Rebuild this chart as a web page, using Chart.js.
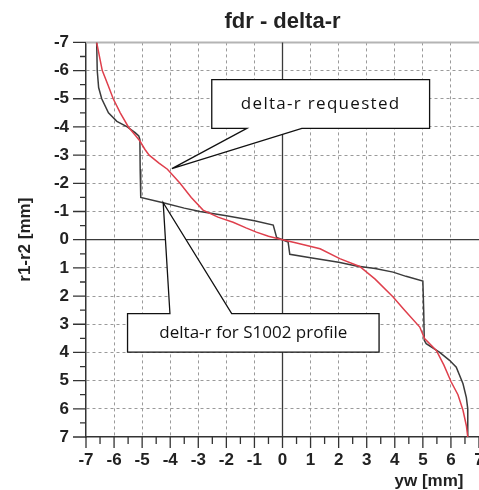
<!DOCTYPE html>
<html>
<head>
<meta charset="utf-8">
<script src="https://cdn.jsdelivr.net/npm/chart.js@4.4.1/dist/chart.umd.min.js"></script>
<style>
  html, body { margin: 0; padding: 0; background: #fff; overflow: hidden; }
</style>
</head>
<body>
<canvas id="chart" width="479" height="490"></canvas>
<script>
// Datos (yw en mm, delta-r en mm)
const axisTicks = [-7, -6, -5, -4, -3, -2, -1, 0, 1, 2, 3, 4, 5, 6, 7];

const requestedYw = [-6.62, -6.5, -6.42, -6.22, -6.03, -5.78, -5.49, -5.2, -5.08, -4.9, -4.75, -4.4, -4.1, -3.65, -3.25, -2.83, -2.3, -1.76, -1.3, -0.93, -0.5, 0,
    0.5, 1.34, 2.04, 2.75, 3.3, 3.94, 4.35, 4.89, 5.06, 5.48, 5.75, 6.01, 6.25, 6.43, 6.55, 6.6];
const requestedDr = [-7.0, -6.4, -6.0, -5.5, -5.0, -4.5, -4.0, -3.65, -3.5, -3.2, -3.0, -2.72, -2.5, -2.0, -1.5, -1.05, -0.8, -0.62, -0.42, -0.27, -0.12, 0,
    0.12, 0.32, 0.67, 0.95, 1.4, 2.03, 2.5, 3.1, 3.51, 3.93, 4.45, 5.05, 5.5, 6.05, 6.6, 7.0];

const profileYw = [-6.62, -6.6, -6.55, -6.44, -6.2, -5.9, -5.53, -5.25, -5.12, -5.08, -5.07, -5.05, -4.25, -3.5, -2.94, -2.0, -1.0, -0.33, -0.21, 0,
    0.2, 0.26, 1.0, 2.0, 2.63, 3.3, 3.94, 4.4, 5.0, 5.03, 5.05, 5.12, 5.6, 5.95, 6.19, 6.43, 6.55, 6.6, 6.6];
const profileDr = [-7.0, -6.0, -5.4, -5.0, -4.5, -4.2, -4.0, -3.8, -3.68, -3.55, -2.5, -1.5, -1.31, -1.12, -1.0, -0.85, -0.67, -0.52, -0.08, 0,
    0.08, 0.52, 0.64, 0.8, 0.93, 1.02, 1.15, 1.3, 1.47, 2.5, 3.57, 3.69, 4.0, 4.28, 4.52, 5.11, 5.6, 6.0, 7.0];

// Cajas de texto (en unidades de datos)
const callouts = [
    { text: 'delta-r requested', spacing: '1.3px', box: [-2.52, -5.68, 5.24, -3.95], base: [-1.27, 0.69], tip: [-3.94, -2.52], side: 'bottom' },
    { text: 'delta-r for S1002 profile', spacing: '0px', box: [-5.52, 2.62, 3.44, 3.99], base: [-4.01, -1.81], tip: [-4.25, -1.31], side: 'top' }
];

const FONT = '"Liberation Sans", Arial, sans-serif';

function toPoints(xs, ys) {
    return xs.map((v, i) => ({ x: v, y: ys[i] }));
}

const decorPlugin = {
    id: 'decor',
    beforeDatasetsDraw(chart) {
        const { ctx, chartArea: a, scales: { x, y } } = chart;
        ctx.save();
        // borde superior gris
        ctx.strokeStyle = '#b4b4b4';
        ctx.lineWidth = 2;
        ctx.beginPath();
        ctx.moveTo(a.left, a.top);
        ctx.lineTo(a.right, a.top);
        ctx.stroke();
        // ejes en cero
        const x0 = x.getPixelForValue(0);
        const y0 = y.getPixelForValue(0);
        ctx.strokeStyle = '#3a3a3a';
        ctx.lineWidth = 1.3;
        ctx.beginPath();
        ctx.moveTo(x0, a.top);
        ctx.lineTo(x0, a.bottom);
        ctx.moveTo(a.left, y0);
        ctx.lineTo(a.right, y0);
        ctx.stroke();
        ctx.restore();
    },
    afterDatasetsDraw(chart) {
        const { ctx, scales: { x, y } } = chart;
        ctx.save();
        callouts.forEach(c => {
            const l = x.getPixelForValue(c.box[0]);
            const r = x.getPixelForValue(c.box[2]);
            const t = y.getPixelForValue(c.box[1]);
            const b = y.getPixelForValue(c.box[3]);
            const b0 = x.getPixelForValue(c.base[0]);
            const b1 = x.getPixelForValue(c.base[1]);
            const tx = x.getPixelForValue(c.tip[0]);
            const ty = y.getPixelForValue(c.tip[1]);
            ctx.beginPath();
            if (c.side === 'bottom') {
                ctx.moveTo(l, t);
                ctx.lineTo(r, t);
                ctx.lineTo(r, b);
                ctx.lineTo(b1, b);
                ctx.lineTo(tx, ty);
                ctx.lineTo(b0, b);
                ctx.lineTo(l, b);
            } else {
                ctx.moveTo(l, t);
                ctx.lineTo(b0, t);
                ctx.lineTo(tx, ty);
                ctx.lineTo(b1, t);
                ctx.lineTo(r, t);
                ctx.lineTo(r, b);
                ctx.lineTo(l, b);
            }
            ctx.closePath();
            ctx.fillStyle = '#ffffff';
            ctx.fill();
            ctx.strokeStyle = '#111';
            ctx.lineWidth = 1.3;
            ctx.stroke();
            ctx.fillStyle = '#111';
            ctx.font = '17px "Open Sans", sans-serif';
            ctx.letterSpacing = c.spacing;
            ctx.textAlign = 'center';
            ctx.textBaseline = 'middle';
            ctx.fillText(c.text, (l + r) / 2, (t + b) / 2);
        });
        ctx.restore();
    },
    afterDraw(chart) {
        const { ctx, chartArea: a, scales: { x, y } } = chart;
        ctx.save();
        ctx.strokeStyle = '#333';
        ctx.lineWidth = 1.3;
        ctx.beginPath();
        // marcas mayores y menores
        for (let v = -7; v <= 7; v += 0.5) {
            const major = Number.isInteger(v);
            const py = y.getPixelForValue(v);
            ctx.moveTo(a.left - (major ? 13 : 6), py);
            ctx.lineTo(a.left, py);
            const px = x.getPixelForValue(v);
            ctx.moveTo(px, a.bottom);
            ctx.lineTo(px, a.bottom + (major ? 11 : 7));
        }
        ctx.stroke();
        // título del eje x
        ctx.fillStyle = '#222';
        ctx.font = 'bold 17px ' + FONT;
        ctx.textAlign = 'center';
        ctx.textBaseline = 'middle';
        ctx.fillText('yw [mm]', a.right - 50, a.bottom + 44);
        ctx.restore();
    }
};

document.addEventListener('DOMContentLoaded', () => {
    const ctx = document.getElementById('chart').getContext('2d');

    const gridColor = (c) => {
        const v = c.tick ? c.tick.value : null;
        return (v === 0 || v === -7 || v === 7) ? 'rgba(0,0,0,0)' : '#9a9a9a';
    };

    new Chart(ctx, {
        type: 'scatter',
        data: {
            datasets: [
                {
                    label: 'delta-r requested',
                    data: toPoints(requestedYw, requestedDr),
                    showLine: true,
                    borderColor: '#df3f4c',
                    borderWidth: 1.5,
                    pointRadius: 0,
                    tension: 0
                },
                {
                    label: 'delta-r for S1002 profile',
                    data: toPoints(profileYw, profileDr),
                    showLine: true,
                    borderColor: '#3b3b3b',
                    borderWidth: 1.5,
                    pointRadius: 0,
                    tension: 0
                }
            ]
        },
        options: {
            responsive: false,
            animation: false,
            layout: { padding: { top: 9, left: 8, right: 0, bottom: 0 } },
            plugins: {
                legend: { display: false },
                tooltip: { enabled: false },
                title: {
                    display: true,
                    text: 'fdr - delta-r',
                    fullSize: false,
                    color: '#222',
                    font: { family: FONT, size: 22, weight: 'bold' },
                    padding: { top: 0, bottom: 7 }
                }
            },
            scales: {
                x: {
                    type: 'linear',
                    min: axisTicks[0],
                    max: axisTicks[axisTicks.length - 1],
                    afterBuildTicks: (s) => { s.ticks = axisTicks.map(v => ({ value: v })); },
                    afterFit: (s) => { s.height = 53; s.paddingRight = 0; },
                    ticks: {
                        autoSkip: false,
                        maxRotation: 0,
                        padding: 13,
                        color: '#222',
                        font: { family: FONT, size: 17, weight: 'bold' }
                    },
                    grid: { color: gridColor, lineWidth: 1, drawTicks: false },
                    border: { display: true, color: '#333', width: 1.5, dash: [3, 3] }
                },
                y: {
                    type: 'linear',
                    reverse: true,
                    min: axisTicks[0],
                    max: axisTicks[axisTicks.length - 1],
                    afterBuildTicks: (s) => { s.ticks = axisTicks.map(v => ({ value: v })); },
                    afterFit: (s) => { s.width = 78; },
                    ticks: {
                        autoSkip: false,
                        padding: 17,
                        color: '#222',
                        font: { family: FONT, size: 17, weight: 'bold' }
                    },
                    grid: { color: gridColor, lineWidth: 1, drawTicks: false },
                    border: { display: true, color: '#333', width: 1.5, dash: [3, 3] },
                    title: {
                        display: true,
                        text: 'r1-r2 [mm]',
                        color: '#222',
                        font: { family: FONT, size: 17, weight: 'bold' },
                        padding: { top: 7, bottom: 0 }
                    }
                }
            }
        },
        plugins: [decorPlugin]
    });
});
</script>
</body>
</html>
